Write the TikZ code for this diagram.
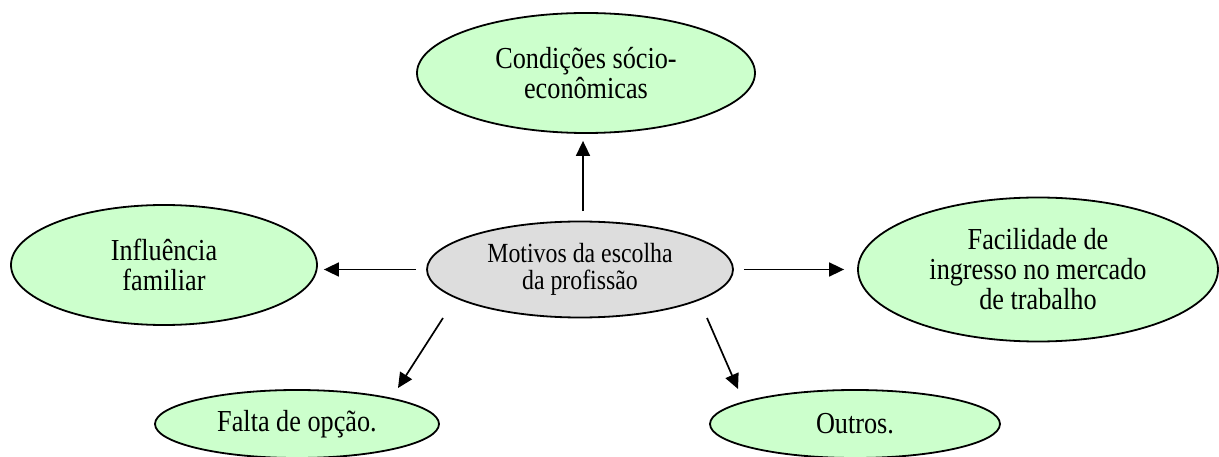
\documentclass[tikz,border=0pt]{standalone}
\usepackage{fontspec}
\setmainfont{Liberation Serif}
\newfontfamily\tallserif[FakeStretch=0.86]{Liberation Serif}
\usetikzlibrary{shapes.geometric,arrows.meta}
\definecolor{lgreen}{RGB}{204,255,204}
\definecolor{lgray}{RGB}{221,221,221}
\tikzset{
  bub/.style={ellipse, draw=black, line width=1.8pt, fill=lgreen, inner sep=0pt,
    align=center, font=\tallserif\fontsize{30.5}{30}\selectfont},
  arr/.style={line width=1.7pt, -{Triangle[length=15pt,width=14pt]}}
}
\begin{document}
\begin{tikzpicture}[x=1pt,y=-1pt]
\useasboundingbox (0,0) rectangle (1219,457);
\node[bub, minimum width=338pt, minimum height=120pt] (top) at (586,73) {Condições sócio-\\econômicas};
\node[bub, minimum width=306pt, minimum height=120pt] (left) at (164,265) {Influência\\familiar};
\node[bub, fill=lgray, minimum width=306pt, minimum height=96pt, font=\tallserif\fontsize{27.7}{27.5}\selectfont] (center) at (580,269.5) {Motivos da escolha\\da profissão};
\node[bub, minimum width=360pt, minimum height=144pt] (right) at (1038,269.5) {Facilidade de\\ingresso no mercado\\de trabalho};
\node[bub, minimum width=284pt, minimum height=68pt] (bl) at (297,424) {Falta de opção.};
\node[bub, minimum width=290pt, minimum height=68pt] (br) at (855,424) {Outros.};
\coordinate (s4) at ([shift={(-137,48.5)}]center.center);
\coordinate (t4) at ([shift={(101,-36)}]bl.center);
\coordinate (s5) at ([shift={(127,48.5)}]center.center);
\coordinate (t5) at ([shift={(-117,-35)}]br.center);
\draw[arr, shorten <=9.5pt, shorten >=7pt] ([xshift=3pt]center.north) -- ([xshift=-3pt]top.south);
\draw[arr, shorten <=10pt, shorten >=6pt] (center.west) -- (center.west -| left.east);
\draw[arr, shorten <=10pt, shorten >=13pt] (center.east) -- (center.east -| right.west);
\draw[arr] (s4) -- (t4);
\draw[arr] (s5) -- (t5);
\end{tikzpicture}
\end{document}
